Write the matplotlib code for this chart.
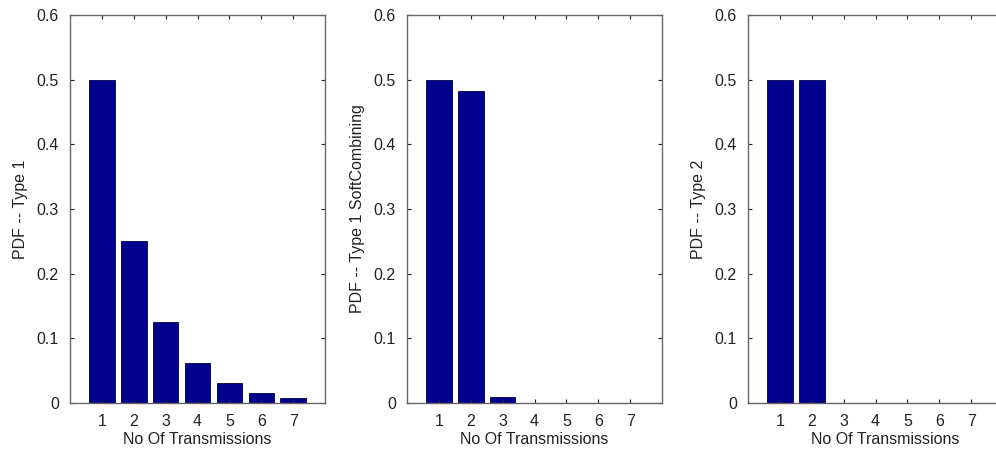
import matplotlib
matplotlib.use("Agg")
import matplotlib.pyplot as plt
from matplotlib.ticker import FuncFormatter

plt.rcParams['font.family'] = ['Liberation Sans', 'DejaVu Sans']

transmissions = [1, 2, 3, 4, 5, 6, 7]
pdf_type1 = [0.5, 0.25, 0.125, 0.0625, 0.0313, 0.0156, 0.0078]
pdf_type1_soft = [0.5, 0.483, 0.009, 0.0, 0.0, 0.0, 0.0]
pdf_type2 = [0.5, 0.5, 0.0, 0.0, 0.0, 0.0, 0.0]
ylabels = ["PDF -- Type 1", "PDF -- Type 1 SoftCombining", "PDF -- Type 2"]
xlabel = "No Of Transmissions"
yticks = [0, 0.1, 0.2, 0.3, 0.4, 0.5, 0.6]

bar_color = "#00008F"
W, H = 996, 459
fig = plt.figure(figsize=(W / 100, H / 100), dpi=100)

lefts = [70, 407, 748]
xmaxes = [8, 8, 8.6]
unit = 255 / 8
top, bottom = 15, 403
series = [pdf_type1, pdf_type1_soft, pdf_type2]

for i, (left, xmax, vals, yl) in enumerate(zip(lefts, xmaxes, series, ylabels)):
    ax_w = unit * xmax
    ax = fig.add_axes([left / W, 1 - bottom / H, ax_w / W, (bottom - top) / H])
    ax.bar(transmissions, vals, width=0.8, color=bar_color,
           edgecolor="#000040", linewidth=0.6)
    ax.set_xlim(0, xmax)
    ax.set_ylim(0, 0.6)
    ax.set_xticks(transmissions)
    ax.set_yticks(yticks)
    ax.yaxis.set_major_formatter(FuncFormatter(lambda v, p: "0" if v == 0 else f"{v:.1f}"))
    ax.tick_params(direction="in", length=3, width=0.8, top=True, right=(i < 2),
                   labelsize=11.5, colors="#222222", pad=8)
    for s in ax.spines.values():
        s.set_color("#666666")
        s.set_linewidth(1.0)
    if i == 2:
        ax.spines['right'].set_visible(False)
    ax.set_xlabel(xlabel, fontsize=11.5, color="#222222", labelpad=2)
    ax.set_ylabel(yl, fontsize=11.5, color="#222222", labelpad=6)

fig.savefig("out.png", dpi=100)
